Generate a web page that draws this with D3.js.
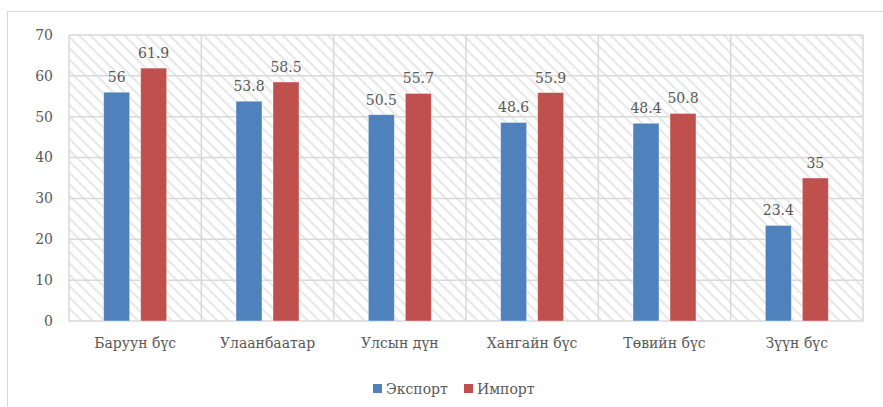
<!DOCTYPE html>
<html>
<head>
<meta charset="utf-8">
<script src="https://cdn.jsdelivr.net/npm/d3@7"></script>
<style>
  html, body { margin: 0; padding: 0; background: #fff; }
  svg { display: block; }
  text { font-family: "DejaVu Serif", "Liberation Serif", serif; fill: #595959; }
</style>
</head>
<body>
<svg id="chart" width="883" height="407"></svg>
<script>
// Regions and their export / import figures
const categories = ["Баруун бүс", "Улаанбаатар", "Улсын дүн", "Хангайн бүс", "Төвийн бүс", "Зүүн бүс"];
const exportValues = [56, 53.8, 50.5, 48.6, 48.4, 23.4];
const importValues = [61.9, 58.5, 55.7, 55.9, 50.8, 35];
const seriesNames = ["Экспорт", "Импорт"];
const seriesColors = ["#4F81BD", "#C0504D"];
const yTicks = [0, 10, 20, 30, 40, 50, 60, 70];

const svg = d3.select("#chart");
const plot = { left: 69, right: 863, top: 35, bottom: 321 };

// Outer chart frame
svg.append("rect")
  .attr("x", 7.5).attr("y", 11.5)
  .attr("width", 1000).attr("height", 1000)
  .attr("fill", "none").attr("stroke", "#d9d9d9").attr("stroke-width", 1);

// Diagonal hatch for the plot background
const defs = svg.append("defs");
const pat = defs.append("pattern")
  .attr("id", "hatch")
  .attr("patternUnits", "userSpaceOnUse")
  .attr("width", 8).attr("height", 8)
  .attr("patternTransform", "rotate(45)");
pat.append("rect").attr("width", 8).attr("height", 8).attr("fill", "#ffffff");
pat.append("rect").attr("x", 0).attr("y", 0).attr("width", 8).attr("height", 2.2).attr("fill", "#e8e8e8");

const x0 = d3.scaleBand().domain(categories).range([plot.left, plot.right]).paddingInner(0).paddingOuter(0);
const y = d3.scaleLinear().domain([0, 70]).range([plot.bottom, plot.top]);

svg.append("rect")
  .attr("x", plot.left).attr("y", plot.top)
  .attr("width", plot.right - plot.left).attr("height", plot.bottom - plot.top)
  .attr("fill", "url(#hatch)");

// Horizontal gridlines
svg.append("g").selectAll("line").data(yTicks).join("line")
  .attr("x1", plot.left).attr("x2", plot.right)
  .attr("y1", d => y(d)).attr("y2", d => y(d))
  .attr("stroke", "#d9d9d9").attr("stroke-width", 1.5);

// Vertical category dividers
const dividers = categories.map(c => x0(c)).concat([plot.right]);
svg.append("g").selectAll("line").data(dividers).join("line")
  .attr("x1", d => d).attr("x2", d => d)
  .attr("y1", plot.top).attr("y2", plot.bottom)
  .attr("stroke", "#d9d9d9").attr("stroke-width", 1.5);

// Y axis labels
svg.append("g").selectAll("text").data(yTicks).join("text")
  .attr("x", 53).attr("y", d => y(d))
  .attr("dy", "0.35em")
  .attr("text-anchor", "end")
  .attr("font-size", 14)
  .text(d => d);

// Bars
const barW = 26, gap = 11;
const series = [exportValues, importValues];
series.forEach((vals, si) => {
  const offset = si === 0 ? -(gap / 2 + barW) : gap / 2;
  const g = svg.append("g");
  g.selectAll("rect").data(vals).join("rect")
    .attr("x", (d, i) => x0(categories[i]) + x0.bandwidth() / 2 + offset)
    .attr("y", d => y(d))
    .attr("width", barW)
    .attr("height", d => y(0) - y(d))
    .attr("fill", seriesColors[si])
    .attr("stroke", "#ffffff").attr("stroke-opacity", 0.5).attr("stroke-width", 0.8);
  g.selectAll("text").data(vals).join("text")
    .attr("x", (d, i) => x0(categories[i]) + x0.bandwidth() / 2 + offset + barW / 2)
    .attr("y", d => y(d) - 10)
    .attr("text-anchor", "middle")
    .attr("font-size", 14)
    .text(d => d);
});

// Category labels
svg.append("g").selectAll("text").data(categories).join("text")
  .attr("x", d => x0(d) + x0.bandwidth() / 2)
  .attr("y", 348)
  .attr("text-anchor", "middle")
  .attr("font-size", 14)
  .text(d => d);

// Legend
const legendItems = [
  { name: seriesNames[0], color: seriesColors[0], x: 373 },
  { name: seriesNames[1], color: seriesColors[1], x: 464 }
];
const lg = svg.append("g");
legendItems.forEach(it => {
  lg.append("rect").attr("x", it.x).attr("y", 384).attr("width", 9).attr("height", 9).attr("fill", it.color);
  lg.append("text").attr("x", it.x + 13).attr("y", 394).attr("font-size", 14).text(it.name);
});
</script>
</body>
</html>
